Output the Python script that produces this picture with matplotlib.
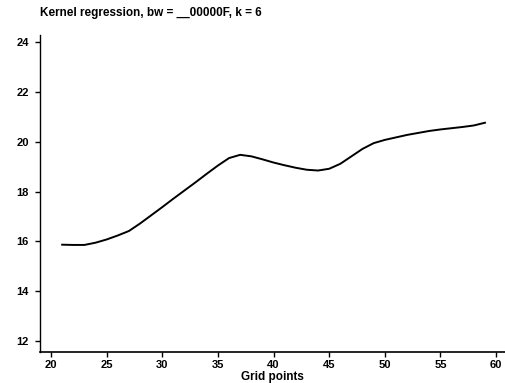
import matplotlib
matplotlib.use("Agg")
import matplotlib.pyplot as plt

plt.rcParams['font.family'] = ["Liberation Sans", "DejaVu Sans"]

# grid points and kernel regression estimate
grid = list(range(21, 60))
fit = [15.87, 15.86, 15.86, 15.95, 16.08, 16.24, 16.42, 16.72, 17.05, 17.38,
       17.72, 18.05, 18.38, 18.72, 19.05, 19.35, 19.48, 19.42, 19.30, 19.17,
       19.06, 18.96, 18.88, 18.85, 18.92, 19.12, 19.42, 19.72, 19.95, 20.08,
       20.18, 20.28, 20.36, 20.44, 20.50, 20.55, 20.60, 20.66, 20.77]
xticks = [20, 25, 30, 35, 40, 45, 50, 55, 60]
yticks = [12, 14, 16, 18, 20, 22, 24]

fig = plt.figure(figsize=(5.05, 3.83), dpi=100)
ax = fig.add_axes([0.079, 0.081, 0.921, 0.828])
ax.plot(grid, fit, color='black', linewidth=1.4, solid_joinstyle='round')

ax.set_xlim(19.0, 60.8)
ax.set_ylim(11.56, 24.3)
ax.set_xticks(xticks)
ax.set_yticks(yticks)
ax.tick_params(direction='out', length=3.6, width=1, labelsize=8)
ax.tick_params(axis='y', pad=4.5)
ax.tick_params(axis='x', pad=2)
for lab in ax.get_xticklabels() + ax.get_yticklabels():
    lab.set_fontweight('bold')
ax.spines['top'].set_visible(False)
ax.spines['right'].set_visible(False)
ax.spines['left'].set_linewidth(1)
ax.spines['bottom'].set_linewidth(1.2)
ax.set_xlabel('Grid points', fontsize=8.5, fontweight='bold', labelpad=1)
fig.text(0.079, 0.966, 'Kernel regression, bw = __00000F, k = 6',
         fontsize=8.5, fontweight='bold', ha='left', va='center')

fig.savefig('out.png', dpi=100, facecolor='white')
